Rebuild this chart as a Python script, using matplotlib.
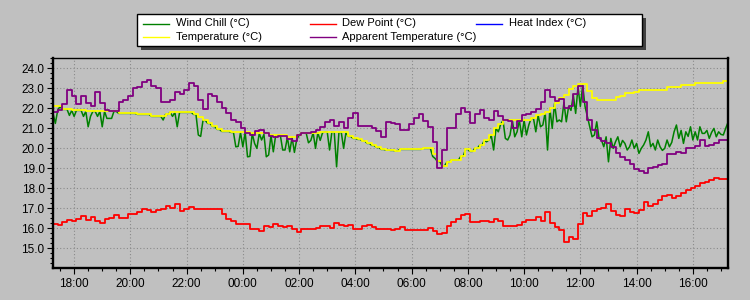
import pandas as pd
import matplotlib
matplotlib.use('Agg')
import matplotlib.pyplot as plt
import matplotlib.dates as mdates
from matplotlib.ticker import MultipleLocator, FormatStrFormatter
from matplotlib.lines import Line2D
from matplotlib.patches import Rectangle

plt.rcParams['font.family'] = ['Liberation Sans', 'DejaVu Sans']

# readings start 17:15, run for 24h
START = '2024-01-01 17:15'
END = '2024-01-02 17:15'

# temperature, 10 min steps (one row = 1 hour)
temperature = [
    22.1, 22.1, 21.95, 21.95, 21.9, 21.9,
    21.9, 21.85, 21.85, 21.85, 21.85, 21.85,
    21.85, 21.85, 21.75, 21.75, 21.75, 21.75,
    21.7, 21.7, 21.7, 21.6, 21.6, 21.6,
    21.7, 21.8, 21.8, 21.8, 21.8, 21.8,
    21.7, 21.55, 21.4, 21.25, 21.1, 20.95,
    20.85, 20.85, 20.8, 20.8, 20.8, 20.8,
    20.75, 20.75, 20.75, 20.75, 20.65, 20.65,
    20.65, 20.65, 20.55, 20.55, 20.65, 20.78,
    20.78, 20.78, 20.78, 20.83, 20.83, 20.83,
    20.8, 20.8, 20.8, 20.6, 20.5, 20.45,
    20.38, 20.25, 20.15, 20.05, 19.95, 19.92,
    19.9, 19.88, 19.95, 19.95, 19.95, 19.95,
    19.95, 20.0, 20.0, 19.7, 19.35, 19.12,
    19.3, 19.42, 19.42, 19.6, 19.95, 19.85,
    20.0, 20.15, 20.4, 20.65, 21.0, 21.2,
    21.4, 21.4, 21.4, 21.4, 21.4, 21.4,
    21.5, 21.65, 21.72, 21.8, 22.0, 22.25,
    22.5, 22.67, 22.95, 23.1, 23.2, 23.2,
    22.85, 22.5, 22.42, 22.42, 22.42, 22.42,
    22.55, 22.6, 22.75, 22.75, 22.8, 22.9,
    22.9, 22.9, 22.9, 22.9, 22.9, 23.05,
    23.05, 23.05, 23.17, 23.17, 23.17, 23.28,
    23.28, 23.28, 23.28, 23.28, 23.28, 23.38,
    23.38]

# apparent temperature, 10 min steps
apparent_temp = [
    21.8, 21.9, 22.2, 22.9, 22.6, 22.2,
    22.6, 22.25, 22.1, 22.8, 22.25, 21.9,
    21.85, 21.85, 22.3, 22.4, 22.6, 23.0,
    23.05, 23.3, 23.4, 23.1, 23.0, 22.3,
    22.3, 22.4, 22.8, 22.7, 22.9, 23.25,
    23.1, 22.4, 21.95, 22.7, 22.6, 22.3,
    22.0, 21.75, 21.42, 21.3, 21.0, 20.78,
    20.67, 20.85, 20.9, 20.75, 20.6, 20.55,
    20.62, 20.6, 20.45, 20.35, 20.65, 20.78,
    20.78, 20.8, 20.9, 21.05, 21.3, 21.4,
    21.1, 21.3, 21.0, 21.5, 21.75, 21.1,
    21.12, 21.1, 21.0, 20.85, 20.55, 21.3,
    21.25, 21.2, 20.9, 20.9, 21.2, 21.5,
    21.7, 21.35, 21.05, 20.3, 19.0, 19.9,
    21.0, 21.0, 21.7, 22.0, 21.8, 21.25,
    21.7, 21.9, 21.5, 21.4, 21.85, 21.6,
    21.42, 21.35, 21.0, 21.35, 21.65, 21.7,
    21.83, 21.95, 22.3, 22.9, 22.55, 22.35,
    22.45, 22.0, 22.1, 22.7, 23.1, 22.3,
    21.4, 20.9, 20.5, 20.35, 20.25, 20.05,
    19.75, 19.55, 19.4, 19.2, 18.95, 18.85,
    18.75, 19.0, 19.05, 19.15, 19.2, 19.7,
    19.7, 19.8, 19.75, 20.0, 20.0, 20.1,
    20.4, 20.1, 20.15, 20.25, 20.4, 20.4,
    20.45]

# dew point, 10 min steps
dew_point = [
    16.2, 16.15, 16.3, 16.4, 16.38, 16.45,
    16.6, 16.4, 16.55, 16.35, 16.25, 16.45,
    16.5, 16.65, 16.5, 16.5, 16.72, 16.72,
    16.8, 16.95, 16.9, 16.8, 16.9, 16.95,
    17.1, 17.0, 17.2, 16.85, 16.98, 17.05,
    16.95, 16.98, 16.95, 16.95, 16.95, 16.95,
    16.72, 16.47, 16.35, 16.22, 16.22, 16.2,
    15.97, 15.95, 15.85, 16.1, 16.05, 16.2,
    16.1, 16.05, 16.1, 15.97, 15.82, 15.95,
    15.98, 15.95, 16.0, 16.1, 16.1, 16.0,
    16.25, 16.15, 16.12, 16.15, 15.95, 15.95,
    16.1, 16.15, 16.05, 15.95, 15.95, 15.95,
    15.9, 15.95, 16.05, 15.93, 15.93, 15.93,
    15.93, 15.93, 16.0, 15.85, 15.72, 15.75,
    16.1, 16.33, 16.45, 16.65, 16.7, 16.3,
    16.3, 16.38, 16.35, 16.3, 16.45, 16.35,
    16.13, 16.13, 16.13, 16.15, 16.3, 16.4,
    16.4, 16.55, 16.35, 16.8, 16.25, 16.05,
    15.9, 15.3, 15.55, 15.45, 16.2, 16.75,
    16.6, 16.85, 16.95, 17.0, 17.2, 16.85,
    16.65, 16.6, 16.95, 16.8, 16.75, 16.9,
    17.3, 17.1, 17.2, 17.4, 17.6, 17.65,
    17.5, 17.6, 17.75, 17.9, 18.0, 18.1,
    18.25, 18.3, 18.4, 18.5, 18.45, 18.45,
    18.5]

# wind chill, 5 min steps (spiky)
wind_chill = [
    21.75, 21.25, 21.9, 22.1, 21.95, 21.95, 21.95, 21.65, 21.9, 21.6, 21.9, 21.9,
    21.9, 21.6, 21.85, 21.08, 21.6, 21.85, 21.85, 21.6, 21.85, 21.08, 21.85, 21.5,
    21.5, 21.5, 21.85, 21.85, 21.75, 21.75, 21.75, 21.75, 21.75, 21.75, 21.75, 21.75,
    21.7, 21.7, 21.7, 21.7, 21.7, 21.7, 21.6, 21.6, 21.6, 21.6, 21.6, 21.42,
    21.7, 21.7, 21.8, 21.6, 21.8, 21.08, 21.8, 21.8, 21.8, 21.8, 21.8, 21.8,
    21.7, 21.7, 20.67, 20.6, 21.4, 21.4, 21.25, 21.25, 21.1, 21.1, 20.95, 20.95,
    20.85, 20.85, 20.85, 20.85, 20.8, 20.8, 20.08, 20.1, 20.8, 20.08, 20.8, 19.58,
    19.6, 20.75, 20.25, 20.0, 20.75, 20.42, 20.7, 19.58, 19.67, 20.65, 19.83, 20.65,
    20.65, 20.65, 19.92, 19.92, 20.55, 19.83, 20.55, 19.8, 20.45, 20.65, 20.78, 20.78,
    20.78, 20.28, 20.4, 20.78, 20.0, 20.78, 20.4, 20.78, 20.83, 20.83, 19.92, 20.83,
    20.8, 19.08, 20.8, 20.8, 20.0, 20.8, 20.6, 20.6, 20.5, 20.5, 20.45, 20.45,
    20.38, 20.38, 20.25, 20.25, 20.15, 20.15, 20.05, 20.05, 19.95, 19.95, 19.92, 19.92,
    19.9, 19.9, 19.88, 19.88, 19.95, 19.95, 19.95, 19.95, 19.95, 19.95, 19.95, 19.95,
    19.95, 19.95, 20.0, 20.0, 20.0, 20.0, 19.6, 19.5, 19.35, 19.35, 19.12, 19.12,
    19.3, 19.3, 19.42, 19.42, 19.42, 19.42, 19.6, 19.6, 19.95, 19.95, 19.85, 19.85,
    20.0, 20.0, 20.15, 20.15, 20.4, 20.33, 20.42, 20.65, 19.92, 21.0, 20.83, 21.2,
    21.4, 20.5, 20.42, 20.67, 21.4, 20.58, 20.83, 21.4, 20.58, 21.4, 20.67, 21.17,
    21.5, 21.5, 20.83, 21.65, 21.08, 21.17, 21.8, 19.92, 22.0, 21.0, 22.25, 21.33,
    21.42, 21.33, 22.3, 21.33, 22.1, 21.9, 22.67, 21.75, 23.08, 22.1, 23.17, 22.1,
    21.6, 21.08, 20.58, 20.67, 21.33, 20.5, 20.42, 20.08, 20.58, 19.33, 20.5, 20.0,
    20.33, 20.58, 20.08, 20.4, 20.25, 19.92, 20.08, 20.42, 20.0, 20.25, 19.75, 20.0,
    20.17, 20.42, 20.83, 20.08, 20.25, 19.92, 20.42, 20.08, 19.9, 20.0, 20.42, 20.08,
    20.3, 20.83, 21.17, 20.5, 20.9, 20.25, 20.83, 20.6, 21.08, 20.42, 20.83, 20.42,
    21.08, 20.75, 20.75, 20.9, 20.5, 20.8, 21.0, 20.58, 20.83, 20.7, 20.67, 21.0,
    21.3]

# no heat index readings in this period
heat_index = []

BG = '#c0c0c0'
W, H = 750, 300

t10 = pd.date_range(START, periods=len(temperature), freq='10min')
t5 = pd.date_range(START, periods=len(wind_chill), freq='5min')

fig = plt.figure(figsize=(W / 100, H / 100), dpi=100, facecolor=BG)
ax = fig.add_axes([53 / W, 32 / H, 675 / W, 210 / H])
ax.set_facecolor(BG)

lw = 1.3
# wind chill drawn as plain line so the spikes stay thin
ax.plot(t5, wind_chill, color='#008000', lw=1.1, label='Wind Chill (°C)')
ax.plot(t10, dew_point, color='#ff0000', lw=lw, drawstyle='steps-post', label='Dew Point (°C)')
ax.plot(t10[:len(heat_index)], heat_index, color='#0000ff', lw=lw, label='Heat Index (°C)')
ax.plot(t10, temperature, color='#ffff00', lw=lw, drawstyle='steps-post', label='Temperature (°C)')
ax.plot(t10, apparent_temp, color='#800080', lw=lw, drawstyle='steps-post', label='Apparent Temperature (°C)')

ax.set_xlim(pd.Timestamp(START), pd.Timestamp(END))
ax.set_ylim(14.02, 24.52)

ax.xaxis.set_major_locator(mdates.HourLocator(byhour=range(0, 24, 2)))
ax.xaxis.set_minor_locator(mdates.MinuteLocator(byminute=[0, 30]))
ax.xaxis.set_major_formatter(mdates.DateFormatter('%H:%M'))
ax.yaxis.set_major_locator(MultipleLocator(1.0))
ax.yaxis.set_minor_locator(MultipleLocator(0.25))
ax.yaxis.set_major_formatter(FormatStrFormatter('%.1f'))

ax.grid(True, which='major', color='#8a8a8a', linestyle=(0, (1, 2)), linewidth=0.8)
ax.set_axisbelow(True)
ax.tick_params(which='major', length=4, width=0.8, labelsize=8.5, pad=2)
ax.tick_params(which='minor', length=2.5, width=0.8)
ax.tick_params(axis='x', pad=3)

for side in ['left', 'bottom', 'right']:
    ax.spines[side].set_linewidth(1.7)
ax.spines['top'].set_linewidth(1.0)

# legend box drawn by hand so the three columns are evenly spaced
def fx(x):
    return x / W

def fy(y):
    return 1 - y / H

lx, ly, lwid, lht = 137, 14, 505, 32
fig.add_artist(Rectangle((fx(lx + 4), fy(ly + lht + 4)), lwid / W, lht / H,
                         transform=fig.transFigure, facecolor='#404040', edgecolor='none'))
fig.add_artist(Rectangle((fx(lx), fy(ly + lht)), lwid / W, lht / H,
                         transform=fig.transFigure, facecolor='white', edgecolor='black', lw=1.0))

handles, labels = ax.get_legend_handles_labels()
for i, (h, lab) in enumerate(zip(handles, labels)):
    col, row = i % 3, i // 3
    x0 = lx + 6 + col * 166.5
    y0 = ly + 9.5 + row * 13.4
    fig.add_artist(Line2D([fx(x0), fx(x0 + 26)], [fy(y0), fy(y0)],
                          transform=fig.transFigure, color=h.get_color(), lw=1.0))
    fig.text(fx(x0 + 33), fy(y0), lab, fontsize=8, va='center', ha='left')

fig.savefig('out.png', dpi=100, facecolor=BG)
